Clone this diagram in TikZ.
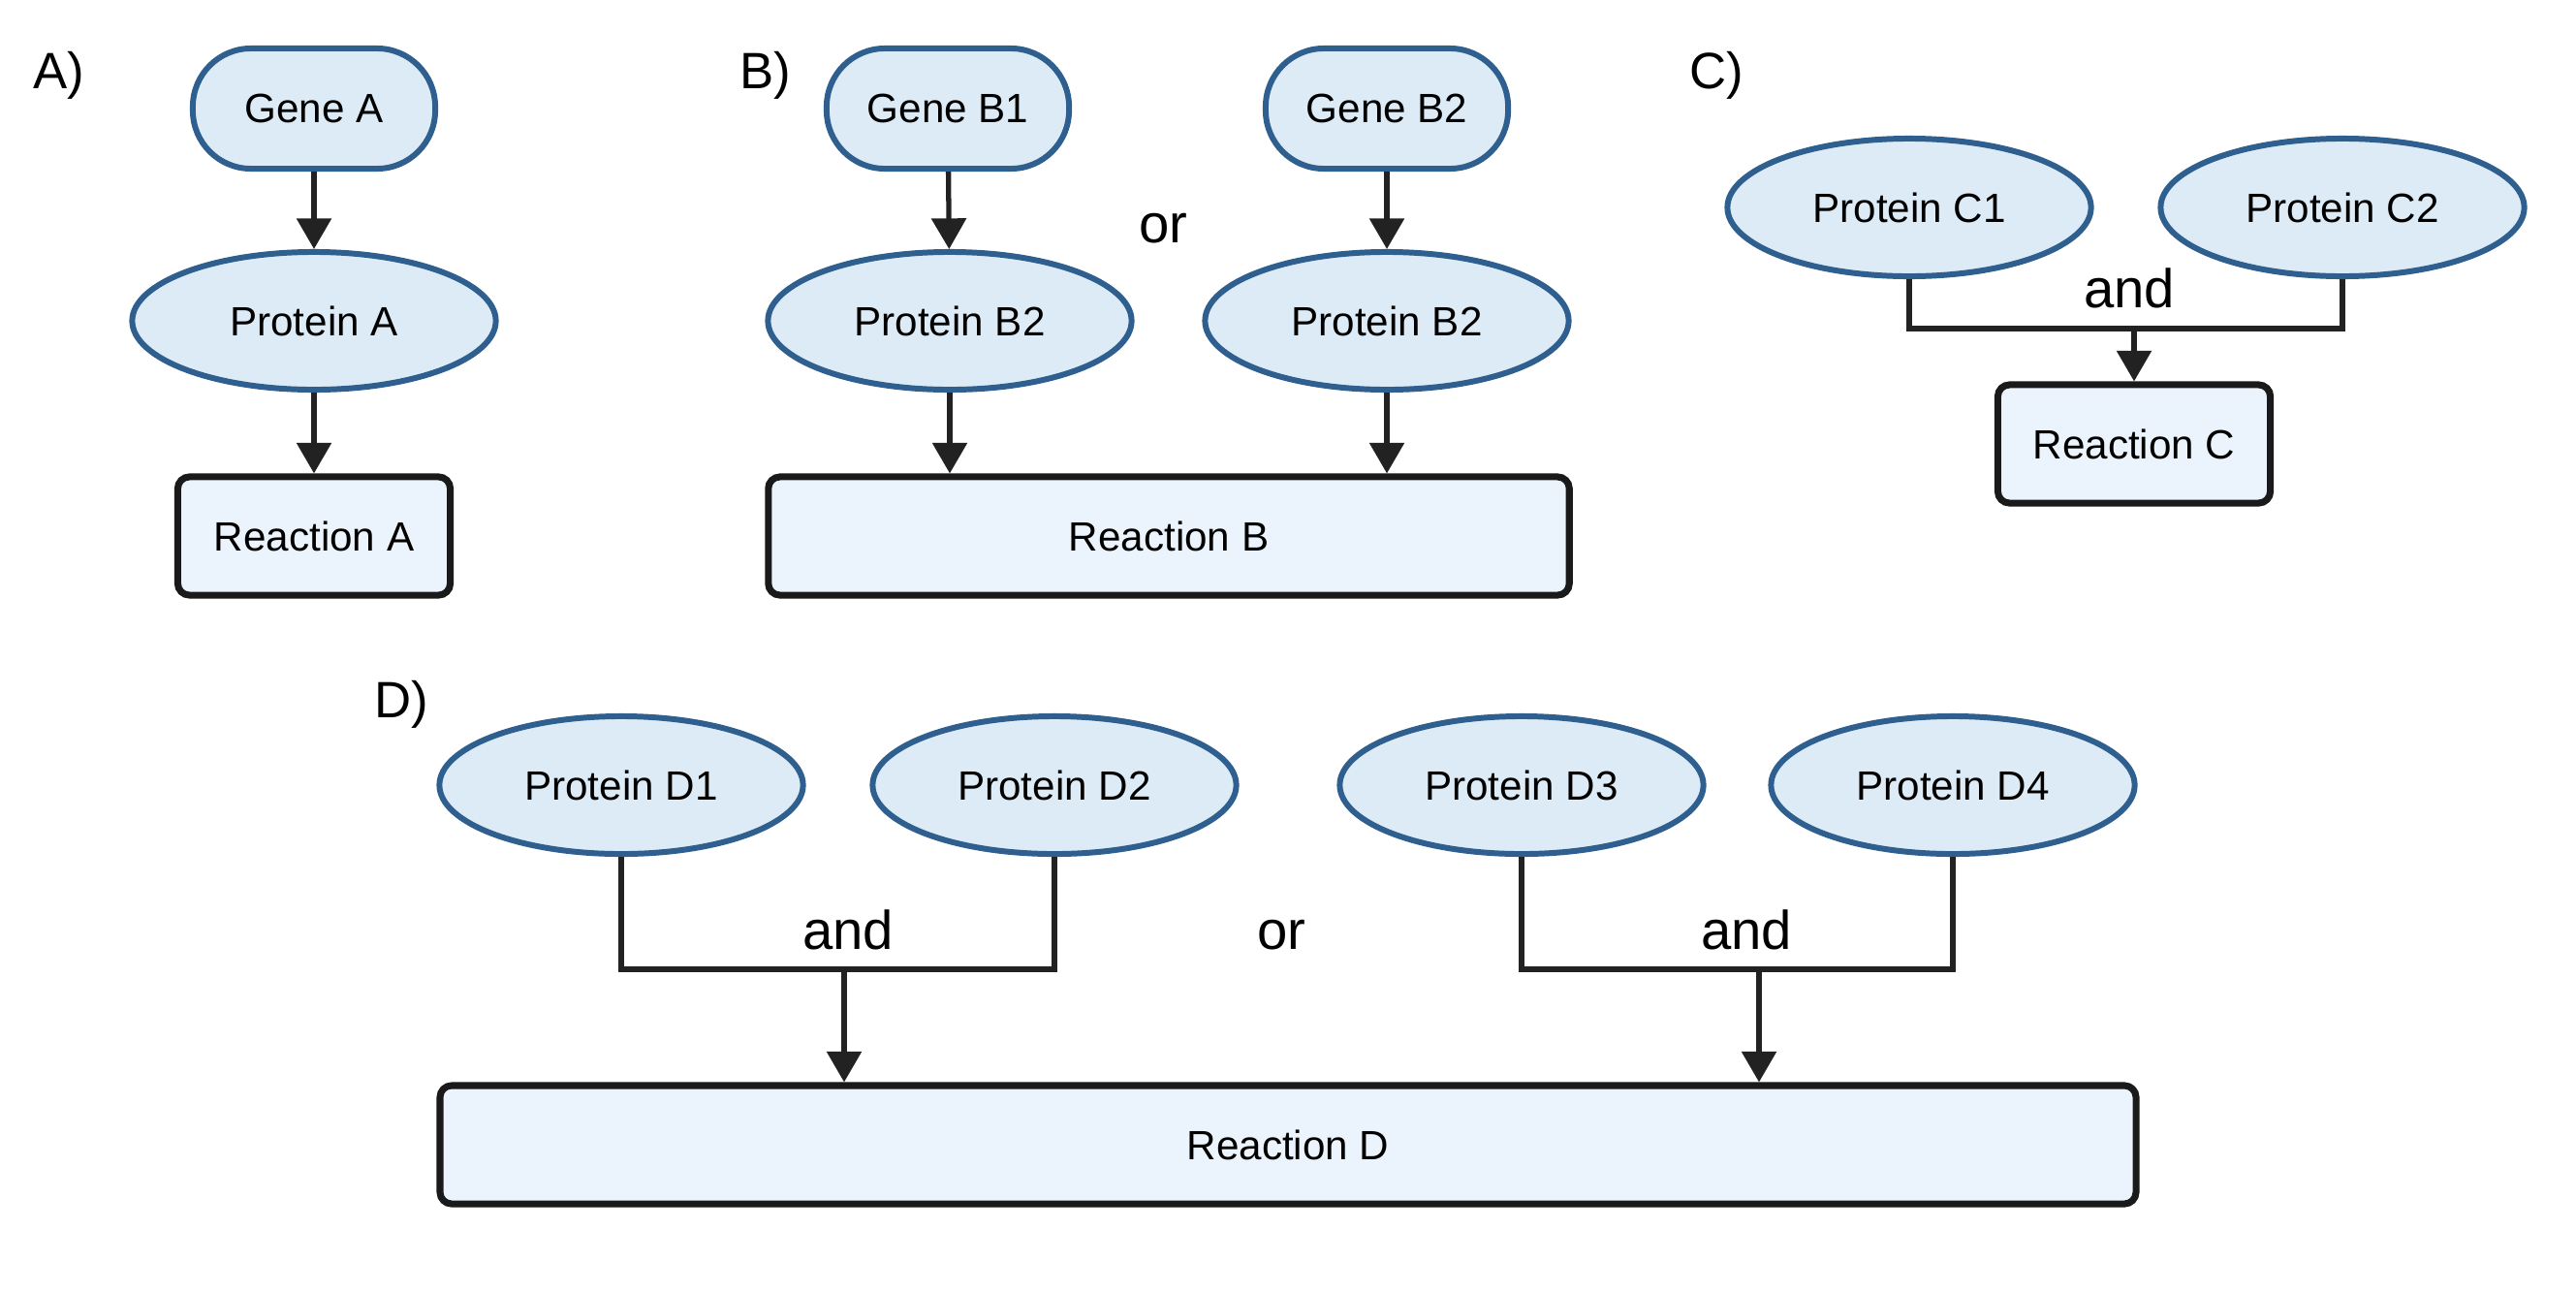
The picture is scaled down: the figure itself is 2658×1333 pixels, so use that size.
\documentclass[tikz,border=0pt]{standalone}
\usepackage{fontspec}
\setmainfont{Liberation Sans}
\usetikzlibrary{shapes.geometric,arrows.meta}

\definecolor{genefill}{HTML}{DDEBF7}
\definecolor{geneline}{HTML}{2F5F8F}
\definecolor{reacfill}{HTML}{EBF3FC}
\definecolor{reacline}{HTML}{1A1A1A}
\definecolor{arrline}{HTML}{222222}

\begin{document}
\begin{tikzpicture}[x=0.01cm,y=-0.01cm,
  txt/.style={font=\fontsize{12}{14}\selectfont},
  gene/.style={txt,draw=geneline,fill=genefill,line width=1.7pt,rounded corners=0.6cm,minimum width=2.5cm,minimum height=1.24cm},
  prot/.style={txt,ellipse,draw=geneline,fill=genefill,line width=1.7pt,inner sep=0pt,minimum width=3.75cm,minimum height=1.42cm},
  reac/.style={txt,draw=reacline,fill=reacfill,line width=2pt,rounded corners=0.12cm,minimum height=1.22cm},
  lbl/.style={font=\fontsize{15}{18}\selectfont},
  op/.style={font=\fontsize{16}{19}\selectfont},
  link/.style={draw=arrline,line width=1.5pt},
  arr/.style={link,-{Triangle[width=10pt,length=9pt]}}]
\useasboundingbox (0,0) rectangle (2658,1333);
% A
\node [lbl] (la) at (61,78) {A)};
\node [gene] (ga) at (324,112) {Gene A};
\node [prot] (pa) at (324,331) {Protein A};
\node [reac,minimum width=2.81cm] (ra) at (324,553) {Reaction A};
\draw [arr] (ga) -- (pa);
\draw [arr] (pa) -- (ra);
% B
\node [lbl] (lb) at (790,78) {B)};
\node [gene] (gb1) at (978,112) {Gene B1};
\node [gene] (gb2) at (1431,112) {Gene B2};
\node [op] (orb) at (1200,236) {or};
\node [prot] (pb1) at (980,331) {Protein B2};
\node [prot] (pb2) at (1431,331) {Protein B2};
\node [reac,minimum width=8.26cm] (rb) at (1206,553) {Reaction B};
\draw [arr] (gb1) -- (pb1);
\draw [arr] (gb2) -- (pb2);
\draw [arr] (pb1) -- (pb1 |- rb.north);
\draw [arr] (pb2) -- (pb2 |- rb.north);
% C
\node [lbl] (lc) at (1771,78) {C)};
\node [prot] (pc1) at (1970,214) {Protein C1};
\node [prot] (pc2) at (2417,214) {Protein C2};
\node [op] (andc) at (2197,297) {and};
\node [reac,minimum width=2.81cm] (rc) at (2202,458) {Reaction C};
\coordinate (jc) at (2202,339);
\draw [link] (pc1.south) -- (pc1.south |- jc) -- (pc2.south |- jc) -- (pc2.south);
\draw [arr] (jc) -- (rc);
% D
\node [lbl] (ld) at (414,727) {D)};
\node [prot] (pd1) at (641,810) {Protein D1};
\node [prot] (pd2) at (1088,810) {Protein D2};
\node [prot] (pd3) at (1570,810) {Protein D3};
\node [prot] (pd4) at (2015,810) {Protein D4};
\node [op] (andd1) at (875,959) {and};
\node [op] (ord) at (1322,965) {or};
\node [op] (andd2) at (1802,959) {and};
\node [reac,minimum width=17.49cm] (rd) at (1329,1181) {Reaction D};
\coordinate (jd1) at (871,1000);
\coordinate (jd2) at (1815,1000);
\draw [link] (pd1.south) -- (pd1.south |- jd1) -- (pd2.south |- jd1) -- (pd2.south);
\draw [link] (pd3.south) -- (pd3.south |- jd2) -- (pd4.south |- jd2) -- (pd4.south);
\draw [arr] (jd1) -- (jd1 |- rd.north);
\draw [arr] (jd2) -- (jd2 |- rd.north);
\end{tikzpicture}
\end{document}
